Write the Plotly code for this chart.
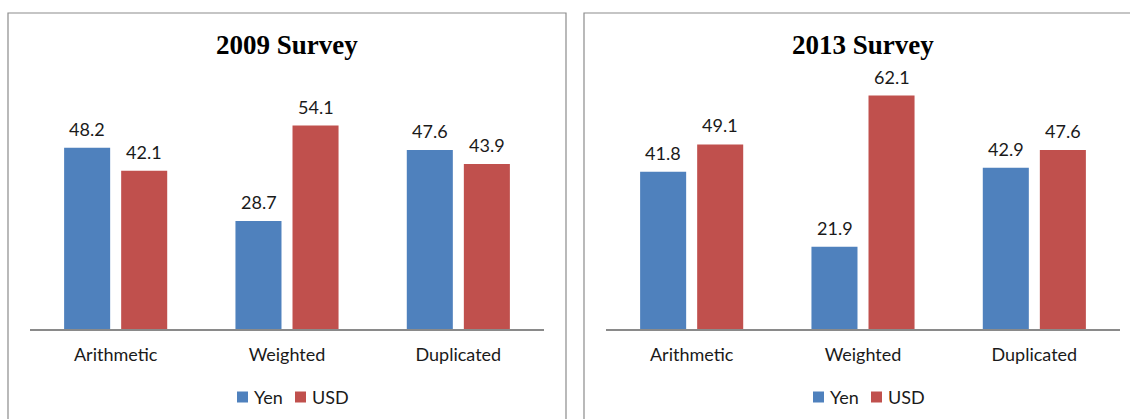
import plotly.graph_objects as go

# Survey results: average values by method and currency
categories = ["Arithmetic", "Weighted", "Duplicated"]
yen_2009 = [48.2, 28.7, 47.6]
usd_2009 = [42.1, 54.1, 43.9]
yen_2013 = [41.8, 21.9, 42.9]
usd_2013 = [49.1, 62.1, 47.6]
series_names = ["Yen", "USD"]
panel_titles = ["2009 Survey", "2013 Survey"]

W, H = 1130, 419
BLUE = "#4F81BD"
RED = "#C0504D"
LABEL_FONT = dict(family="Lato, Carlito, Calibri, sans-serif", size=18, color="#1a1a1a")


def px_x(v):
    return v / W


def px_y(v):
    return (H - v) / H


axis_left_px = [30, 606]
axis_width_px = 514
x_domains = [[px_x(a), px_x(a + axis_width_px)] for a in axis_left_px]
y_domain = [px_y(329), px_y(65.8)]

# half the distance between the two bar centres of a group, in pixels
GROUP_HALF = 28.5

fig = go.Figure()

series = [
    (yen_2009, usd_2009, "x", "y"),
    (yen_2013, usd_2013, "x2", "y2"),
]
colors = [BLUE, RED]
for yen, usd, xa, ya in series:
    for name, vals, color, side in zip(series_names, (yen, usd), colors, (-1, 1)):
        fig.add_trace(go.Bar(
            x=categories, y=vals, name=name, xaxis=xa, yaxis=ya, showlegend=False,
            marker=dict(color=color, line=dict(width=0)),
        ))
        # value labels above each bar
        for cat, v in zip(categories, vals):
            fig.add_annotation(
                x=cat, y=v, xref=xa, yref=ya, text=f"{v:.1f}",
                showarrow=False, xanchor="center", yanchor="bottom",
                xshift=side * GROUP_HALF, yshift=6, font=LABEL_FONT,
            )

axis_common = dict(
    showgrid=False, zeroline=False, ticks="", showline=True,
    linecolor="#8a8a8a", linewidth=2, tickfont=LABEL_FONT, fixedrange=True,
    ticklabelstandoff=8,
)
yaxis_common = dict(range=[0, 70], domain=y_domain, visible=False, fixedrange=True)

fig.update_layout(
    width=W, height=H, margin=dict(l=0, r=0, t=0, b=0),
    paper_bgcolor="white", plot_bgcolor="white",
    barmode="group", bargap=0.334, bargroupgap=0.193,
    xaxis=dict(domain=x_domains[0], anchor="y", **axis_common),
    xaxis2=dict(domain=x_domains[1], anchor="y2", **axis_common),
    yaxis=dict(anchor="x", **yaxis_common),
    yaxis2=dict(anchor="x2", **yaxis_common),
)

# Compact legend under each panel: colour swatch followed by series name
LEGEND_Y = 397
SWATCH = 11
for a in axis_left_px:
    start = a + 207
    for i, (name, color) in enumerate(zip(series_names, colors)):
        sx = start + i * 58
        fig.add_shape(type="rect", xref="paper", yref="paper",
                      x0=px_x(sx), x1=px_x(sx + SWATCH),
                      y0=px_y(LEGEND_Y + SWATCH / 2), y1=px_y(LEGEND_Y - SWATCH / 2),
                      line=dict(width=0), fillcolor=color)
        fig.add_annotation(text=name, xref="paper", yref="paper",
                           x=px_x(sx + SWATCH + 4), y=px_y(LEGEND_Y),
                           xanchor="left", yanchor="middle", showarrow=False,
                           font=LABEL_FONT)

# Panel frames
for x0, x1 in ((8, 566), (584, 1140)):
    fig.add_shape(type="rect", xref="paper", yref="paper",
                  x0=px_x(x0), x1=px_x(x1), y0=px_y(430), y1=px_y(13),
                  line=dict(color="#8c8c8c", width=1.2), fillcolor="rgba(0,0,0,0)",
                  layer="below")

# Panel titles
for title, dom in zip(panel_titles, x_domains):
    fig.add_annotation(
        text=f"<b>{title}</b>", xref="paper", yref="paper",
        x=(dom[0] + dom[1]) / 2, y=px_y(45), xanchor="center", yanchor="middle",
        showarrow=False,
        font=dict(family="Liberation Serif, Times New Roman, serif", size=27, color="black"),
    )

fig.write_html("out.html")
